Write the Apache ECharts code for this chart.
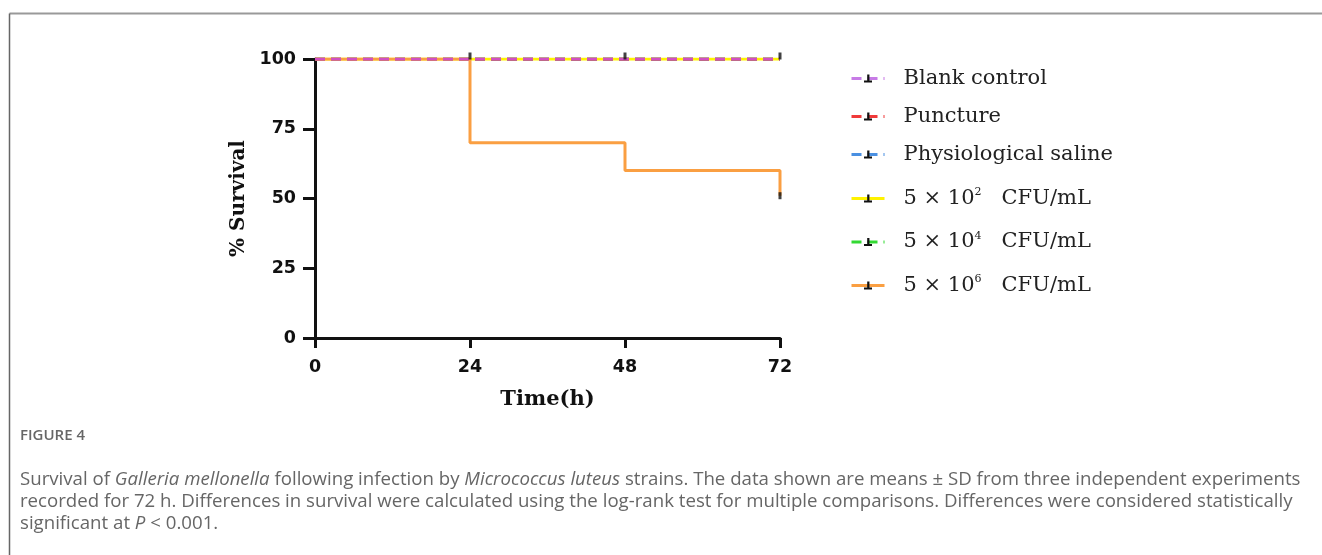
<!DOCTYPE html>
<html><head><meta charset="utf-8">
<script src="https://cdn.jsdelivr.net/npm/echarts@6/dist/echarts.min.js"></script>
<style>html,body{margin:0;padding:0;background:#fff}#c{width:1322px;height:555px}</style>
</head><body><div id="c"></div>
<script>
// ---- data ----
const seriesNames = ['Blank control','Puncture','Physiological saline','5 × 10² CFU/mL','5 × 10⁴ CFU/mL','5 × 10⁶ CFU/mL'];
const times = [0, 24, 48, 72];
const blankControl = [100, 100, 100, 100];
const puncture = [100, 100, 100, 100];
const saline = [100, 100, 100, 100];
const dose2 = [100, 100, 100, 100];
const dose4 = [100, 100, 100, 100];
const dose6 = [100, 70, 60, 51];
const censorTop = [[24,100],[48,100],[72,100]];
const censorLow = [[72,51]];
const xTicks = [0, 24, 48, 72];
const yTicks = [0, 25, 50, 75, 100];

const colors = ['#D24FC0','#F03A3A','#4A90E2','#FFF200','#33D933','#FA9F42'];
const legendColors = ['#C77BE6','#F03A3A','#4A90E2','#FFF200','#33D933','#FA9F42'];
const dashed = [true,true,true,false,true,false];
const allData = [blankControl,puncture,saline,dose2,dose4,dose6];
const zOrder = [8,6,5,4,5,7];
const tickIcon = 'path://M2,0 L3.4,0 L3.4,4 L5,4 L5,5.4 L0,5.4 L0,4 L2,4 Z';

const series = allData.map((vals,i)=>({
  name: seriesNames[i], type:'line', step:'end',
  data: times.map((t,k)=>[t,vals[k]]),
  showSymbol:false, symbol:tickIcon, symbolSize:[3,7],
  itemStyle:{color:'#111'},
  lineStyle:{color:colors[i], width:3, type: dashed[i]?[10,6]:'solid'},
  z: zOrder[i], silent:true, animation:false
}));
series.push({type:'scatter', data:censorTop, symbol:'rect', symbolSize:[3,7], symbolOffset:[0,-3], itemStyle:{color:'#111'}, z:10, silent:true, animation:false});
series.push({type:'scatter', data:censorLow, symbol:'rect', symbolSize:[3,7], itemStyle:{color:'#111'}, z:10, silent:true, animation:false});

function fmtLegend(name){
  const m = name.match(/^5 × 10(.) CFU\/mL$/);
  if(!m) return name;
  const sup = {'²':'2','⁴':'4','⁶':'6'}[m[1]];
  return '5 × 10{s|' + sup + '}   CFU/mL';
}
const legendText = {fontFamily:'DejaVu Serif', fontSize:21, color:'#222', padding:[0,0,0,14],
  rich:{s:{fontFamily:'DejaVu Serif', fontSize:11, color:'#222', verticalAlign:'top', padding:[0,0,12,0]}}};

function legendData(idx){ return idx.map(i=>({name:seriesNames[i], itemStyle:{color:'#111'}, lineStyle:{color:legendColors[i]}})); }

const chart = echarts.init(document.getElementById('c'), null, {renderer:'canvas'});
chart.setOption({
  animation:false,
  grid:{left:315, top:59, width:465, height:279, containLabel:false},
  xAxis:{type:'value', min:0, max:72, interval:24,
    axisLine:{lineStyle:{color:'#111', width:3}},
    axisTick:{length:10, lineStyle:{color:'#111', width:3}},
    axisLabel:{fontFamily:'DejaVu Sans', fontWeight:'bold', fontSize:17.5, color:'#111', margin:20,
      formatter:v=>xTicks.includes(v)?String(v):''},
    splitLine:{show:false},
    name:'Time(h)', nameLocation:'middle', nameGap:51,
    nameTextStyle:{fontFamily:'DejaVu Serif', fontWeight:'bold', fontSize:21, color:'#111'}},
  yAxis:{type:'value', min:0, max:100, interval:25,
    axisLine:{show:true, lineStyle:{color:'#111', width:3}},
    axisTick:{show:true, length:12, lineStyle:{color:'#111', width:3}},
    axisLabel:{fontFamily:'DejaVu Sans', fontWeight:'bold', fontSize:17.5, color:'#111', margin:19,
      formatter:v=>yTicks.includes(v)?String(v):''},
    splitLine:{show:false},
    name:'% Survival', nameLocation:'middle', nameGap:66, nameRotate:90,
    nameTextStyle:{fontFamily:'DejaVu Serif', fontWeight:'bold', fontSize:20, color:'#111'}},
  legend:[
    {orient:'vertical', left:850, top:68, padding:0, itemWidth:33, itemHeight:10, itemGap:17,
     lineStyle:{width:3}, data:legendData([0,1,2]), textStyle:legendText, formatter:fmtLegend, selectedMode:false},
    {orient:'vertical', left:850, top:187, padding:0, itemWidth:33, itemHeight:10, itemGap:21.5,
     lineStyle:{width:3}, data:legendData([3,4,5]), textStyle:legendText, formatter:fmtLegend, selectedMode:false}
  ],
  graphic:[
    {type:'line', shape:{x1:9.5,y1:13.5,x2:1322,y2:13.5}, style:{stroke:'#999', lineWidth:2}},
    {type:'line', shape:{x1:9.5,y1:13.5,x2:9.5,y2:555}, style:{stroke:'#666', lineWidth:1.5}},
    {type:'text', left:20, top:428, style:{text:'FIGURE 4', font:'600 15px "Open Sans"', fill:'#666'}},
    {type:'text', left:20, top:470, style:{
      text:'Survival of {i|Galleria mellonella} following infection by {i|Micrococcus luteus} strains. The data shown are means ± SD from three independent experiments',
      font:'18.65px "Open Sans"', fill:'#666',
      rich:{i:{fontFamily:'Open Sans', fontStyle:'italic', fontSize:18.65, fill:'#666'}}}},
    {type:'text', left:20, top:492, style:{
      text:'recorded for 72 h. Differences in survival were calculated using the log-rank test for multiple comparisons. Differences were considered statistically',
      font:'18.65px "Open Sans"', fill:'#666'}},
    {type:'text', left:20, top:514, style:{
      text:'significant at {i|P} < 0.001.',
      font:'18.65px "Open Sans"', fill:'#666',
      rich:{i:{fontFamily:'Open Sans', fontStyle:'italic', fontSize:18.65, fill:'#666'}}}}
  ],
  series: series
});
</script></body></html>
